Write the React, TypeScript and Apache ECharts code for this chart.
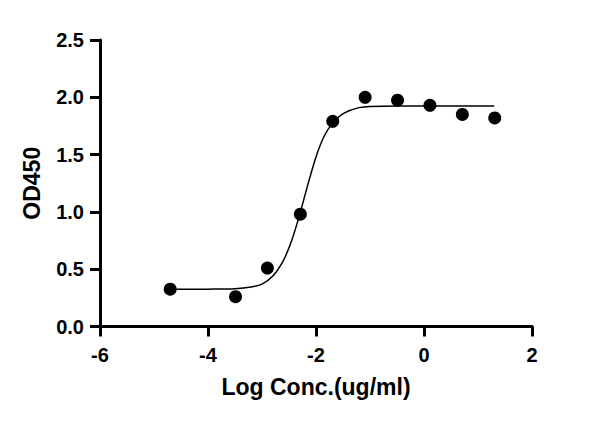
import React, {useEffect, useRef} from 'react';
import * as echarts from 'echarts';

// measured points: log concentration vs OD450
const logConc = [-4.70, -3.49, -2.90, -2.29, -1.69, -1.09, -0.49, 0.11, 0.71, 1.31];
const od450 = [0.326, 0.26, 0.51, 0.98, 1.79, 2.0, 1.975, 1.93, 1.85, 1.82];

// fitted curve
const fitX = [-4.70, -4.0, -3.5, -3.2, -3.0, -2.8, -2.6, -2.45, -2.3, -2.15, -2.0, -1.85, -1.7, -1.55, -1.4, -1.2, -1.0, -0.5, 0.5, 1.30];
const fitY = [0.325, 0.326, 0.33, 0.345, 0.37, 0.44, 0.58, 0.75, 0.98, 1.24, 1.48, 1.66, 1.77, 1.84, 1.88, 1.91, 1.92, 1.925, 1.925, 1.925];

const xTicks = {min: -6, max: 2, interval: 2};
const yTicks = {min: 0, max: 2.5, interval: 0.5};

const FONT = '"Liberation Sans", Arial, sans-serif';

const App: React.FC = () => {
  const chartRef = useRef<HTMLDivElement | null>(null);

  useEffect(() => {
    if (!chartRef.current) return;
    const chart = echarts.init(chartRef.current, undefined, {renderer: 'svg'});

    const axisCommon = {
      axisLine: {show: true, onZero: false, lineStyle: {color: '#000', width: 3}},
      axisTick: {show: true, length: 10, lineStyle: {color: '#000', width: 3}},
      splitLine: {show: false},
      nameLocation: 'middle' as const,
      nameTextStyle: {color: '#000', fontSize: 23, fontWeight: 'bold' as const, fontFamily: FONT},
    };

    const option: echarts.EChartsOption = {
      animation: false,
      backgroundColor: '#fff',
      grid: {left: 100, right: 68, top: 40, bottom: 96.5, containLabel: false},
      xAxis: {
        type: 'value',
        ...xTicks,
        ...axisCommon,
        name: 'Log Conc.(ug/ml)',
        nameGap: 49,
        axisLabel: {color: '#000', fontSize: 20, fontWeight: 'bold', fontFamily: FONT, margin: 18},
      },
      yAxis: {
        type: 'value',
        ...yTicks,
        ...axisCommon,
        name: 'OD450',
        nameGap: 57,
        axisLabel: {
          color: '#000', fontSize: 20, fontWeight: 'bold', fontFamily: FONT, margin: 16,
          formatter: (v: number) => v.toFixed(1),
        },
      },
      series: [
        {
          type: 'line',
          data: fitX.map((x, i) => [x, fitY[i]]),
          smooth: 0.3,
          showSymbol: false,
          symbol: 'none',
          lineStyle: {color: '#000', width: 1.5},
          z: 1,
        },
        {
          type: 'scatter',
          data: logConc.map((x, i) => [x, od450[i]]),
          symbol: 'circle',
          symbolSize: 13,
          itemStyle: {color: '#000', opacity: 1},
          z: 2,
        },
      ],
    };

    chart.setOption(option);
    return () => {
      chart.dispose();
    };
  }, []);

  return <div ref={chartRef} style={{position: 'absolute', left: 0, top: 0, width: '600px', height: '423px'}}/>;
};

export default App;
